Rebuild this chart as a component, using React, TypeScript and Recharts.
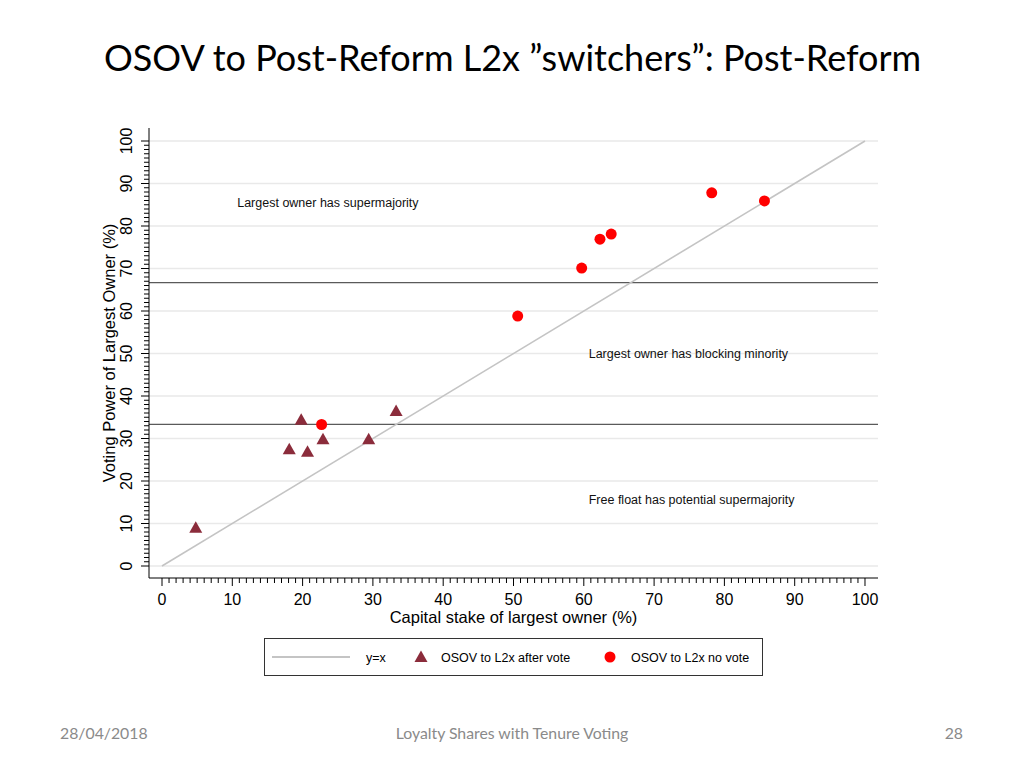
import React from 'react';
import { ScatterChart, Scatter, XAxis, YAxis, ReferenceLine, Legend, Label } from 'recharts';

// OSOV -> L2x, after vote (triangles)
const afterVote = [
  { x: 4.8, y: 9.0 },
  { x: 18.1, y: 27.5 },
  { x: 19.8, y: 34.4 },
  { x: 20.7, y: 26.9 },
  { x: 22.9, y: 29.8 },
  { x: 29.4, y: 29.8 },
  { x: 33.3, y: 36.5 },
];

// OSOV -> L2x, no vote (circles)
const noVote = [
  { x: 22.7, y: 33.3 },
  { x: 50.6, y: 58.8 },
  { x: 59.7, y: 70.1 },
  { x: 62.3, y: 76.9 },
  { x: 63.9, y: 78.1 },
  { x: 78.2, y: 87.8 },
  { x: 85.7, y: 85.9 },
];

const thresholds = [100 / 3, 200 / 3];
const majorTicks = [0, 10, 20, 30, 40, 50, 60, 70, 80, 90, 100];
const minorTicks = Array.from({ length: 101 }, (_, i) => i);

const notes = [
  { x: 10.7, y: 85.4, text: 'Largest owner has supermajority' },
  { x: 60.7, y: 49.9, text: 'Largest owner has blocking minority' },
  { x: 60.7, y: 15.5, text: 'Free float has potential supermajority' },
];

const FONT = '"Liberation Sans", Arial, Helvetica, sans-serif';
const MAROON = '#8b2c3b';
const RED = '#ff0000';
const DIAG = '#c4c4c4';

const Triangle = (props: any) => {
  const { cx, cy } = props;
  if (cx == null || cy == null) return null;
  return <path d={`M${cx},${cy - 6.5} L${cx + 6.5},${cy + 5} L${cx - 6.5},${cy + 5} Z`} fill={MAROON} />;
};

const Dot = (props: any) => {
  const { cx, cy } = props;
  if (cx == null || cy == null) return null;
  return <circle cx={cx} cy={cy} r={5.5} fill={RED} />;
};

const NoteText = (props: any) => {
  const { cx, cy, payload } = props;
  if (cx == null || cy == null) return null;
  return (
    <text x={cx} y={cy} fontSize={12.5} fontFamily={FONT} fill="#111" dominantBaseline="central">
      {payload.text}
    </text>
  );
};

const XTick = (props: any) => {
  const { x, y, payload } = props;
  const major = payload.value % 10 === 0;
  return (
    <g>
      <line x1={x} x2={x} y1={y} y2={y + (major ? 8 : 5)} stroke="#000" strokeWidth={1} />
      {major && (
        <text x={x} y={y + 21} textAnchor="middle" dominantBaseline="central" fontSize={16} fontFamily={FONT} fill="#000">
          {payload.value}
        </text>
      )}
    </g>
  );
};

const YTick = (props: any) => {
  const { x, y, payload } = props;
  const major = payload.value % 10 === 0;
  const tx = x - 22;
  return (
    <g>
      <line x1={x} x2={x - (major ? 8 : 5)} y1={y} y2={y} stroke="#000" strokeWidth={1} />
      {major && (
        <text x={tx} y={y} transform={`rotate(-90 ${tx} ${y})`} textAnchor="middle" dominantBaseline="central" fontSize={16} fontFamily={FONT} fill="#000">
          {payload.value}
        </text>
      )}
    </g>
  );
};

const LegendBox = () => (
  <svg width={499} height={38} style={{ display: 'block' }}>
    <rect x={0.5} y={0.5} width={498} height={37} fill="#fff" stroke="#333" strokeWidth={1} />
    <line x1={8} x2={86} y1={19} y2={19} stroke={DIAG} strokeWidth={2} />
    <text x={102} y={20} fontSize={12.5} fontFamily={FONT} dominantBaseline="central">y=x</text>
    <path d="M157,12.5 L163.5,24 L150.5,24 Z" fill={MAROON} />
    <text x={177} y={20} fontSize={12.5} fontFamily={FONT} dominantBaseline="central">OSOV to L2x after vote</text>
    <circle cx={346} cy={19} r={5.5} fill={RED} />
    <text x={367} y={20} fontSize={12.5} fontFamily={FONT} dominantBaseline="central">OSOV to L2x no vote</text>
  </svg>
);

export default function App() {
  return (
    <div style={{ position: 'absolute', left: 0, top: 0, width: 1024, height: 768, background: '#fff' }}>
      <div
        style={{
          position: 'absolute',
          left: 104,
          top: 34,
          fontFamily: 'Lato, "Open Sans", sans-serif',
          fontSize: 36,
          color: '#000',
          whiteSpace: 'nowrap',
          lineHeight: '46px',
        }}
      >
        OSOV to Post-Reform L2x ”switchers”: Post-Reform
      </div>

      <ScatterChart width={1024} height={768} margin={{ top: 128, right: 146, bottom: 130, left: 89 }}>
        <XAxis
          type="number"
          dataKey="x"
          domain={[-1.85, 101.85]}
          allowDataOverflow
          ticks={minorTicks}
          interval={0}
          tickSize={0}
          tickMargin={0}
          tickLine={false}
          tick={<XTick />}
          height={60}
          axisLine={{ stroke: '#000', strokeWidth: 1 }}
        >
          <Label
            content={(p: any) => {
              const vb = p.viewBox || {};
              return (
                <text x={vb.x + vb.width / 2} y={vb.y + 39} textAnchor="middle" dominantBaseline="central" fontSize={16.5} fontFamily={FONT} fill="#000">
                  Capital stake of largest owner (%)
                </text>
              );
            }}
          />
        </XAxis>
        <YAxis
          type="number"
          dataKey="y"
          domain={[-2.82, 103.06]}
          allowDataOverflow
          ticks={minorTicks}
          interval={0}
          tickSize={0}
          tickMargin={0}
          tickLine={false}
          tick={<YTick />}
          width={60}
          axisLine={{ stroke: '#000', strokeWidth: 1 }}
        >
          <Label
            content={(p: any) => {
              const vb = p.viewBox || {};
              const lx = vb.x + 20;
              const ly = vb.y + vb.height / 2;
              return (
                <text x={lx} y={ly} transform={`rotate(-90 ${lx} ${ly})`} textAnchor="middle" dominantBaseline="central" fontSize={16.5} fontFamily={FONT} fill="#000">
                  Voting Power of Largest Owner (%)
                </text>
              );
            }}
          />
        </YAxis>

        {majorTicks.map((v) => (
          <ReferenceLine key={`g-${v}`} y={v} stroke="#e9e9e9" strokeWidth={1.5} />
        ))}
        {thresholds.map((v) => (
          <ReferenceLine key={`t-${v}`} y={v} stroke="#5a5a5a" strokeWidth={1.2} />
        ))}
        <ReferenceLine segment={[{ x: 0, y: 0 }, { x: 100, y: 100 }]} stroke={DIAG} strokeWidth={1.6} />

        <Scatter name="notes" data={notes} shape={<NoteText />} isAnimationActive={false} legendType="none" />
        <Scatter name="OSOV to L2x after vote" data={afterVote} shape={<Triangle />} fill={MAROON} isAnimationActive={false} />
        <Scatter name="OSOV to L2x no vote" data={noVote} shape={<Dot />} fill={RED} isAnimationActive={false} />

        <Legend
          layout="vertical"
          align="center"
          verticalAlign="middle"
          content={() => <LegendBox />}
          wrapperStyle={{ left: 264, top: 638, width: 499, height: 38 }}
        />
      </ScatterChart>

      <div style={{ position: 'absolute', left: 60, top: 723, fontFamily: 'Lato, sans-serif', fontSize: 15.8, color: '#8a8a8a' }}>
        28/04/2018
      </div>
      <div style={{ position: 'absolute', left: 0, width: 1024, top: 723, textAlign: 'center', fontFamily: 'Lato, sans-serif', fontSize: 15.8, color: '#8a8a8a' }}>
        Loyalty Shares with Tenure Voting
      </div>
      <div style={{ position: 'absolute', right: 61, top: 723, fontFamily: 'Lato, sans-serif', fontSize: 15.8, color: '#8a8a8a' }}>
        28
      </div>
    </div>
  );
}
